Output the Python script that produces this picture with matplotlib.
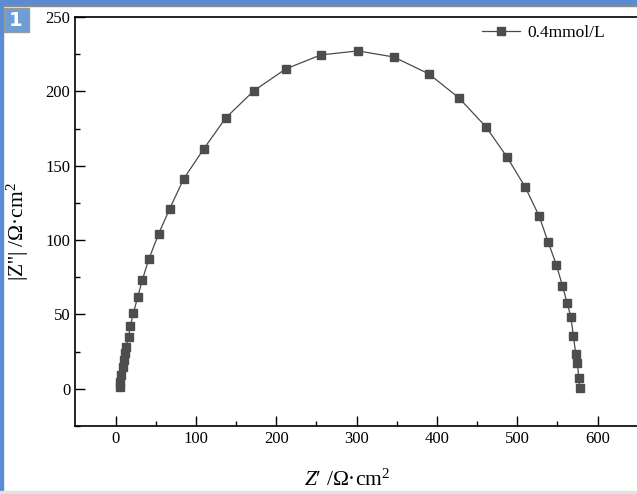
import numpy as np
import matplotlib.pyplot as plt
from matplotlib.patches import Rectangle

plt.rcParams['font.family'] = ['Liberation Serif', 'DejaVu Serif']
plt.rcParams['mathtext.fontset'] = 'custom'
plt.rcParams['mathtext.rm'] = 'Liberation Serif'
plt.rcParams['mathtext.it'] = 'Liberation Serif:italic'

# Nyquist data (Z' and |Z''| in Ohm.cm2)
z_real = [5.0, 5.9, 7.1, 8.7, 10.3, 12.1, 13.3, 16.2, 18.3, 22.1, 27.4, 33.3, 41.5,
          53.6, 67.3, 84.7, 109.7, 137.1, 171.9, 211.8, 255.5, 301.6, 346.4, 390.0,
          427.4, 461.0, 487.2, 509.7, 527.1, 538.3, 548.7, 556.1, 562.0, 566.6,
          569.8, 572.8, 574.8, 576.6, 577.8]
z_imag = [1.1, 4.9, 9.4, 14.6, 19.5, 24.0, 28.4, 35.1, 42.1, 50.9, 61.4, 73.3, 87.4,
          104.2, 121.0, 141.1, 161.3, 182.1, 200.3, 215.1, 224.5, 227.2, 223.1, 211.7,
          195.6, 176.1, 155.9, 135.8, 116.3, 98.8, 83.3, 69.4, 58.0, 48.4,
          35.8, 23.1, 17.3, 7.6, 0.5]

fig = plt.figure(figsize=(6.37, 4.94), dpi=100)
ax = fig.add_axes([75/637, 1-426/494, 1-75/637, (426-17)/494])

ax.plot(z_real, z_imag, '-s', color='#4a4a4a', lw=0.9, ms=6.3,
        markerfacecolor='#4d4d4d', markeredgecolor='#4d4d4d', label='0.4mmol/L')

ax.set_xlim(-50.5, 649)
ax.set_ylim(-25, 250)
ax.set_xticks([0, 100, 200, 300, 400, 500, 600])
ax.set_yticks([0, 50, 100, 150, 200, 250])
ax.set_xticks(np.arange(50, 650, 100), minor=True)
ax.set_yticks(np.arange(-25, 250, 50), minor=True)
ax.tick_params(which='both', direction='in', labelsize=12)
ax.tick_params(which='major', length=7, width=1)
ax.tick_params(which='minor', length=3.5, width=1)
ax.spines['right'].set_visible(False)
for s in ['left', 'bottom', 'top']:
    ax.spines[s].set_linewidth(1.2)

ax.legend(loc='upper right', bbox_to_anchor=(0.97, 1.02), frameon=False,
          fontsize=12.5, handlelength=2.2, handletextpad=0.4)

fig.text(347/637, 1-480/494, "$Z$′ /Ω·cm$^{2}$", ha='center', va='center', fontsize=15.5)
fig.text(18/637, 1-231/494, r"|Z''| /Ω·cm$^{2}$", ha='center', va='center',
         rotation=90, fontsize=15.5)

# window frame and panel badge
fig.patches.append(Rectangle((0, 1-5/494), 1, 5/494, transform=fig.transFigure,
                             color='#5b8bd3', zorder=5))
fig.patches.append(Rectangle((0, 1-6.5/494), 1, 1.5/494, transform=fig.transFigure,
                             color='#8a8a8a', zorder=5))
fig.patches.append(Rectangle((0, 0), 2.5/637, 1, transform=fig.transFigure,
                             color='#5b8bd3', zorder=5))
fig.patches.append(Rectangle((0, 0), 1, 3/494, transform=fig.transFigure,
                             color='#e2e2e2', zorder=5))
fig.patches.append(Rectangle((3.5/637, 1-32/494), 25/637, 24/494, transform=fig.transFigure,
                             facecolor='#6d9ed6', edgecolor='#9a9a9a', lw=1, zorder=5))
fig.text(16/637, 1-20.5/494, '1', ha='center', va='center', color='white',
         fontsize=14, fontweight='bold', family='DejaVu Sans', zorder=6)

plt.savefig('out.png', dpi=100)
